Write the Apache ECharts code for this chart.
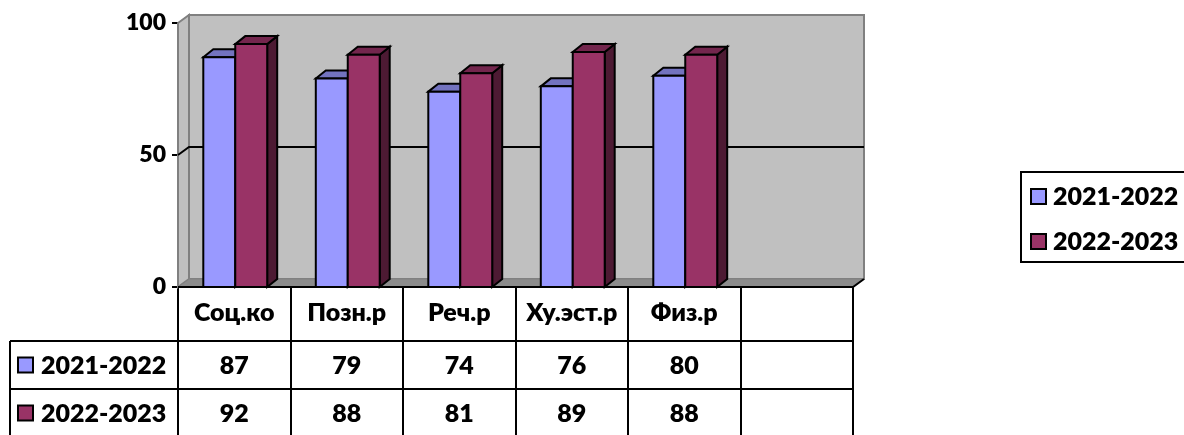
<!DOCTYPE html>
<html><head><meta charset="utf-8">
<script src="https://cdn.jsdelivr.net/npm/echarts@6/dist/echarts.min.js"></script>
<style>html,body{margin:0;padding:0;background:#fff}#c{width:1184px;height:435px}</style>
</head><body><div id="c"></div>
<script>
// ---- data ----
const categories = ['Соц.ко', 'Позн.р', 'Реч.р', 'Ху.эст.р', 'Физ.р', ''];
const seriesNames = ['2021-2022', '2022-2023'];
const values2122 = [87, 79, 74, 76, 80, null];
const values2223 = [92, 88, 81, 89, 88, null];
const yTicks = [0, 50, 100];

// ---- style ----
const FONT = 'Lato';
const FW = 800;
const frontColors = ['#9999FF', '#993366'];
const topColors = ['#7373BF', '#73264D'];
const sideColors = ['#4D4D80', '#4D1A33'];
const WALL_DX = 11, WALL_DY = -8;
const BAR_DX = 10, BAR_DY = -8;
const BAR_FRAC = 0.284;
const TXT = 25;

const chart = echarts.init(document.getElementById('c'), null, {renderer: 'canvas'});

function wallsRender(params, api) {
  const cs = params.coordSys;
  const x0 = cs.x, x1 = cs.x + cs.width, yT = cs.y, yB = cs.y + cs.height;
  const ch = [];
  ch.push({type: 'polygon', shape: {points: [[x0 + WALL_DX, yT + WALL_DY], [x1 + WALL_DX, yT + WALL_DY], [x1 + WALL_DX, yB + WALL_DY], [x0 + WALL_DX, yB + WALL_DY]]},
    style: {fill: '#C0C0C0', stroke: '#808080', lineWidth: 2}});
  ch.push({type: 'polygon', shape: {points: [[x0, yT], [x0 + WALL_DX, yT + WALL_DY], [x0 + WALL_DX, yB + WALL_DY], [x0, yB]]},
    style: {fill: '#C0C0C0', stroke: '#808080', lineWidth: 2}});
  ch.push({type: 'polygon', shape: {points: [[x0, yB], [x0 + WALL_DX, yB + WALL_DY], [x1 + WALL_DX, yB + WALL_DY], [x1, yB]]},
    style: {fill: '#8C8C8C', stroke: '#808080', lineWidth: 1}});
  ch.push({type: 'polyline', shape: {points: [[x0, yB], [x1, yB], [x1 + WALL_DX, yB + WALL_DY]]},
    style: {fill: null, stroke: '#000', lineWidth: 2}});
  yTicks.forEach(function (t) {
    if (t === yTicks[0] || t === yTicks[yTicks.length - 1]) return;
    const y = api.coord([0, t])[1];
    ch.push({type: 'polyline', shape: {points: [[x0, y], [x0 + WALL_DX, y + WALL_DY], [x1 + WALL_DX, y + WALL_DY]]},
      style: {fill: null, stroke: '#000', lineWidth: 2}});
  });
  return {type: 'group', children: ch};
}

function barRender(si) {
  return function (params, api) {
    const v = api.value(1);
    if (v == null || isNaN(v)) return null;
    const c = api.coord([api.value(0), v]);
    const b = api.coord([api.value(0), 0]);
    const band = api.size([1, 0])[0];
    const bw = band * BAR_FRAC;
    const xl = si === 0 ? c[0] - bw + 1 : c[0] + 1;
    const xr = xl + bw, yt = c[1], yb = b[1];
    const st = {stroke: '#000', lineWidth: 2, lineJoin: 'miter'};
    return {type: 'group', children: [
      {type: 'polygon', shape: {points: [[xr, yt], [xr + BAR_DX, yt + BAR_DY], [xr + BAR_DX, yb + BAR_DY], [xr, yb]]},
        style: Object.assign({fill: sideColors[si]}, st)},
      {type: 'polygon', shape: {points: [[xl, yt], [xl + BAR_DX, yt + BAR_DY], [xr + BAR_DX, yt + BAR_DY], [xr, yt]]},
        style: Object.assign({fill: topColors[si]}, st)},
      {type: 'rect', shape: {x: xl, y: yt, width: bw, height: yb - yt},
        style: Object.assign({fill: frontColors[si]}, st)}
    ]};
  };
}

const option = {
  animation: false,
  textStyle: {fontFamily: FONT},
  grid: {left: 178, right: 331, top: 23, bottom: 148, containLabel: false},
  xAxis: {
    type: 'category', data: categories, boundaryGap: true,
    axisLine: {show: true, lineStyle: {color: '#000', width: 2}},
    axisTick: {show: true, interval: 0, length: 150, lineStyle: {color: '#000', width: 2}},
    axisLabel: {interval: 0, margin: 13, color: '#000', fontFamily: FONT, fontWeight: FW, fontSize: TXT}
  },
  yAxis: {
    type: 'value', min: yTicks[0], max: yTicks[yTicks.length - 1], interval: yTicks[1] - yTicks[0],
    axisLine: {show: true, lineStyle: {color: '#000', width: 2}},
    axisTick: {show: true, length: 6, lineStyle: {color: '#000', width: 2}},
    axisLabel: {margin: 12, color: '#000', fontFamily: FONT, fontWeight: FW, fontSize: 23},
    splitLine: {show: false}
  },
  legend: {
    orient: 'vertical', left: 1021, top: 172, icon: 'rect', itemWidth: 15, itemHeight: 15, itemGap: 20,
    borderColor: '#000', borderWidth: 2, padding: [12, 16, 8, 9],
    itemStyle: {borderColor: '#000', borderWidth: 2},
    textStyle: {color: '#000', fontFamily: FONT, fontWeight: FW, fontSize: TXT, padding: [0, 0, 0, 2]},
    data: seriesNames
  },
  series: [
    {type: 'custom', name: '__walls', renderItem: wallsRender, data: [[0, 0]], z: 1, silent: true,
      itemStyle: {color: '#C0C0C0'}},
    {type: 'custom', name: seriesNames[0], renderItem: barRender(0), z: 2, itemStyle: {color: frontColors[0]},
      data: values2122.map(function (v, i) { return [i, v]; })},
    {type: 'custom', name: seriesNames[1], renderItem: barRender(1), z: 3, itemStyle: {color: frontColors[1]},
      data: values2223.map(function (v, i) { return [i, v]; })}
  ]
};
chart.setOption(option);

// ---- data table below the axis ----
const ROW_TOP = [341, 389];
const ROW_H = 48;
const TABLE_LEFT = 10;
const rows = [values2122, values2223];
const g = [];
const bandW = chart.getModel().getComponent('xAxis', 0).axis.getBandWidth();
const xEnd = chart.convertToPixel({gridIndex: 0}, [categories.length - 1, 0])[0] + bandW / 2;
ROW_TOP.forEach(function (y) {
  g.push({type: 'line', shape: {x1: TABLE_LEFT, y1: y, x2: xEnd, y2: y}, style: {stroke: '#000', lineWidth: 2}, z: 10});
});
g.push({type: 'line', shape: {x1: TABLE_LEFT, y1: ROW_TOP[0], x2: TABLE_LEFT, y2: 440}, style: {stroke: '#000', lineWidth: 2}, z: 10});
rows.forEach(function (vals, r) {
  const cy = ROW_TOP[r] + ROW_H / 2;
  g.push({type: 'rect', shape: {x: 18, y: cy - 7.5, width: 15, height: 15},
    style: {fill: frontColors[r], stroke: '#000', lineWidth: 2}, z: 10});
  g.push({type: 'text', x: 41, y: cy + 1, style: {text: seriesNames[r], fill: '#000', font: FW + ' ' + TXT + 'px ' + FONT, textVerticalAlign: 'middle', textAlign: 'left'}, z: 10});
  vals.forEach(function (v, i) {
    if (v == null) return;
    const x = chart.convertToPixel({gridIndex: 0}, [i, 0])[0];
    g.push({type: 'text', x: x, y: cy + 1, style: {text: String(v), fill: '#000', font: FW + ' ' + TXT + 'px ' + FONT, textVerticalAlign: 'middle', textAlign: 'center'}, z: 10});
  });
});
chart.setOption({graphic: g});
</script>
</body></html>
